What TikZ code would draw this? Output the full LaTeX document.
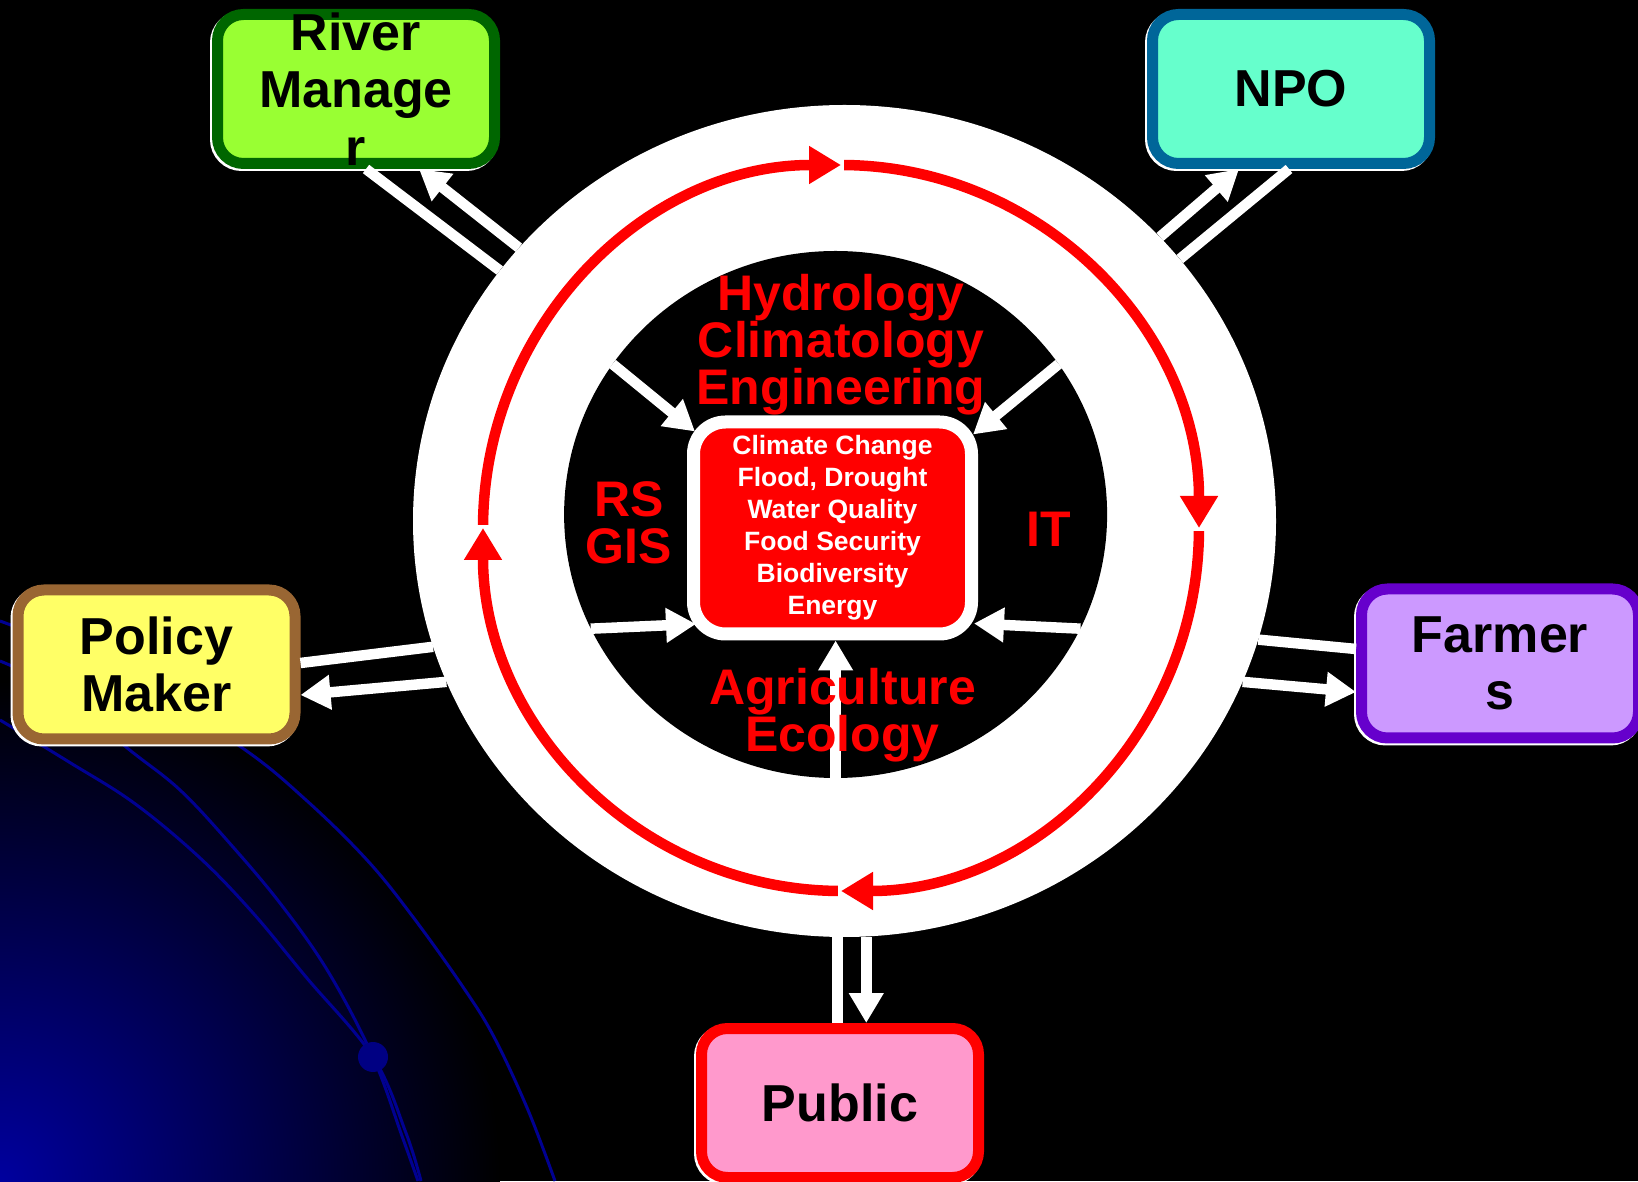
\documentclass[tikz,border=0pt]{standalone}
\usepackage{fontspec}
\setmainfont{Liberation Sans}
\usetikzlibrary{arrows.meta,shapes.geometric,shadows}

\begin{document}
\begin{tikzpicture}[x=1pt,y=1pt,>={Triangle[length=30pt,width=33pt]},
  party/.style={line width=11pt,rounded corners=26pt,minimum width=277pt,minimum height=149pt,inner sep=0pt,
    drop shadow={shadow xshift=-2pt,shadow yshift=-2pt,draw=white,fill=white,line width=11pt,opacity=1}},
  partytext/.style={font=\bfseries\fontsize{52}{57.5}\selectfont,align=center,text=black},
  wire/.style={draw=white,line width=10.5pt},
  flow/.style={draw=red,line width=10.5pt,-{Triangle[length=32pt,width=36pt]}},
  field/.style={text=red,font=\bfseries\fontsize{50}{47}\selectfont,align=center},
  orbit/.style={draw=orbitblue,line width=3pt}]

\definecolor{orbitblue}{rgb}{0,0,0.57}
\definecolor{glowblue}{rgb}{0,0,0.62}
\definecolor{riverline}{rgb}{0,0.4,0}
\definecolor{riverfill}{rgb}{0.6,1,0.2}
\definecolor{npoline}{rgb}{0,0.4,0.6}
\definecolor{npofill}{rgb}{0.4,1,0.8}
\definecolor{policyline}{rgb}{0.6,0.4,0.2}
\definecolor{policyfill}{rgb}{1,1,0.4}
\definecolor{farmline}{rgb}{0.4,0,0.8}
\definecolor{farmfill}{rgb}{0.8,0.6,1}
\definecolor{publicfill}{rgb}{1,0.6,0.8}

\useasboundingbox (0,0) rectangle (1638,1181);
\fill[black] (0,0) rectangle (1638,1181);
\shade[inner color=glowblue,outer color=black] (0,0) circle (500);

\draw[orbit] plot[smooth,tension=0.6] coordinates {(0,560) (120,510) (241,434) (306,381) (367,321) (413,264) (463,194) (494,144) (528,71) (555,0)};
\draw[orbit] plot[smooth,tension=0.6] coordinates {(0,520) (60,490) (126,434) (180,391) (233,334) (283,274) (329,208) (373,124) (402,45) (418,0)};
\draw[orbit] plot[smooth,tension=0.6] coordinates {(0,461) (69,419) (134,378) (199,324) (253,268) (306,204) (373,124) (406,48) (421,0)};
\fill[color=orbitblue!90!black] (373,124) circle (15);

\node[ellipse,fill=white,minimum width=863pt,minimum height=832pt,inner sep=0pt] (ring) at (844.5,660) {};
\node[ellipse,fill=black,minimum width=543pt,minimum height=527pt,inner sep=0pt] (hub) at (835.6,666.5) {};
\node[fill=red,draw=white,line width=13pt,rounded corners=32pt,minimum width=278pt,minimum height=212pt,
  text=white,align=center,font=\bfseries\fontsize{26.5}{32}\selectfont] (core) at (832.5,653)
  {Climate Change\\Flood, Drought\\Water Quality\\Food Security\\Biodiversity\\Energy};

\def\party#1#2#3#4#5{
\node[party,draw=#3,fill=#4] (#1) at (#2) {};
\node[partytext] (#1-t) at (#1) {#5};
}

\party{river}{356,1092}{riverline}{riverfill}{River\\Manage\\r}
\party{npo}{1291,1092}{npoline}{npofill}{NPO}
\party{policy}{156.5,516.5}{policyline}{policyfill}{Policy\\Maker}
\party{farmers}{1500,517.5}{farmline}{farmfill}{Farmer\\s}
\party{public}{840,78}{red}{publicfill}{Public}

\draw[wire]    (ring.144) -- ([xshift=10pt]river.south);
\draw[wire,->] (ring.140) -- ([xshift=63pt]river.south);
\draw[wire,->] (ring.42)  -- ([xshift=-52pt]npo.south);
\draw[wire]    (ring.38)  -- ([xshift=-2pt]npo.south);
\draw[wire]    (ring.197) -- ([yshift=1.5pt]policy.east);
\draw[wire,->] (ring.202) -- ([yshift=-30.5pt]policy.east);
\draw[wire]    (ring.344) -- ([yshift=14.5pt]farmers.west);
\draw[wire,->] (ring.338) -- ([yshift=-28.5pt]farmers.west);
\draw[wire]    (ring.269) -- (ring.269 |- public.north);
\draw[wire,->] (ring.273) -- (ring.273 |- public.north);

\foreach \a in {180,90,0,-90}{
	\draw[flow] (841,653) ++(\a-0.5:358 and 363) arc[start angle=\a-0.5,delta angle=-89.5,x radius=358,y radius=363];
}

\draw[wire,->] (hub.146) -- ([shift={(8pt,-16pt)}]core.north west);
\draw[wire,->] (hub.34)  -- ([shift={(-5pt,-19pt)}]core.north east);
\draw[wire,->] (hub.205) -- ([shift={(9pt,16.5pt)}]core.south west);
\draw[wire,->] (hub.335) -- ([shift={(-4pt,17pt)}]core.south east);
\draw[wire,->] (hub.270) -- (hub.270 |- core.south);

\node[field] (hydro) at (841,836) {Hydrology\\Climatology\\Engineering};
\node[field] (rsgis) at (629,658) {RS\\GIS};
\node[field] (it) at (1049,652) {IT};
\node[field] (agri) at (842.5,465.5) {Agriculture\\Ecology};

\end{tikzpicture}
\end{document}
